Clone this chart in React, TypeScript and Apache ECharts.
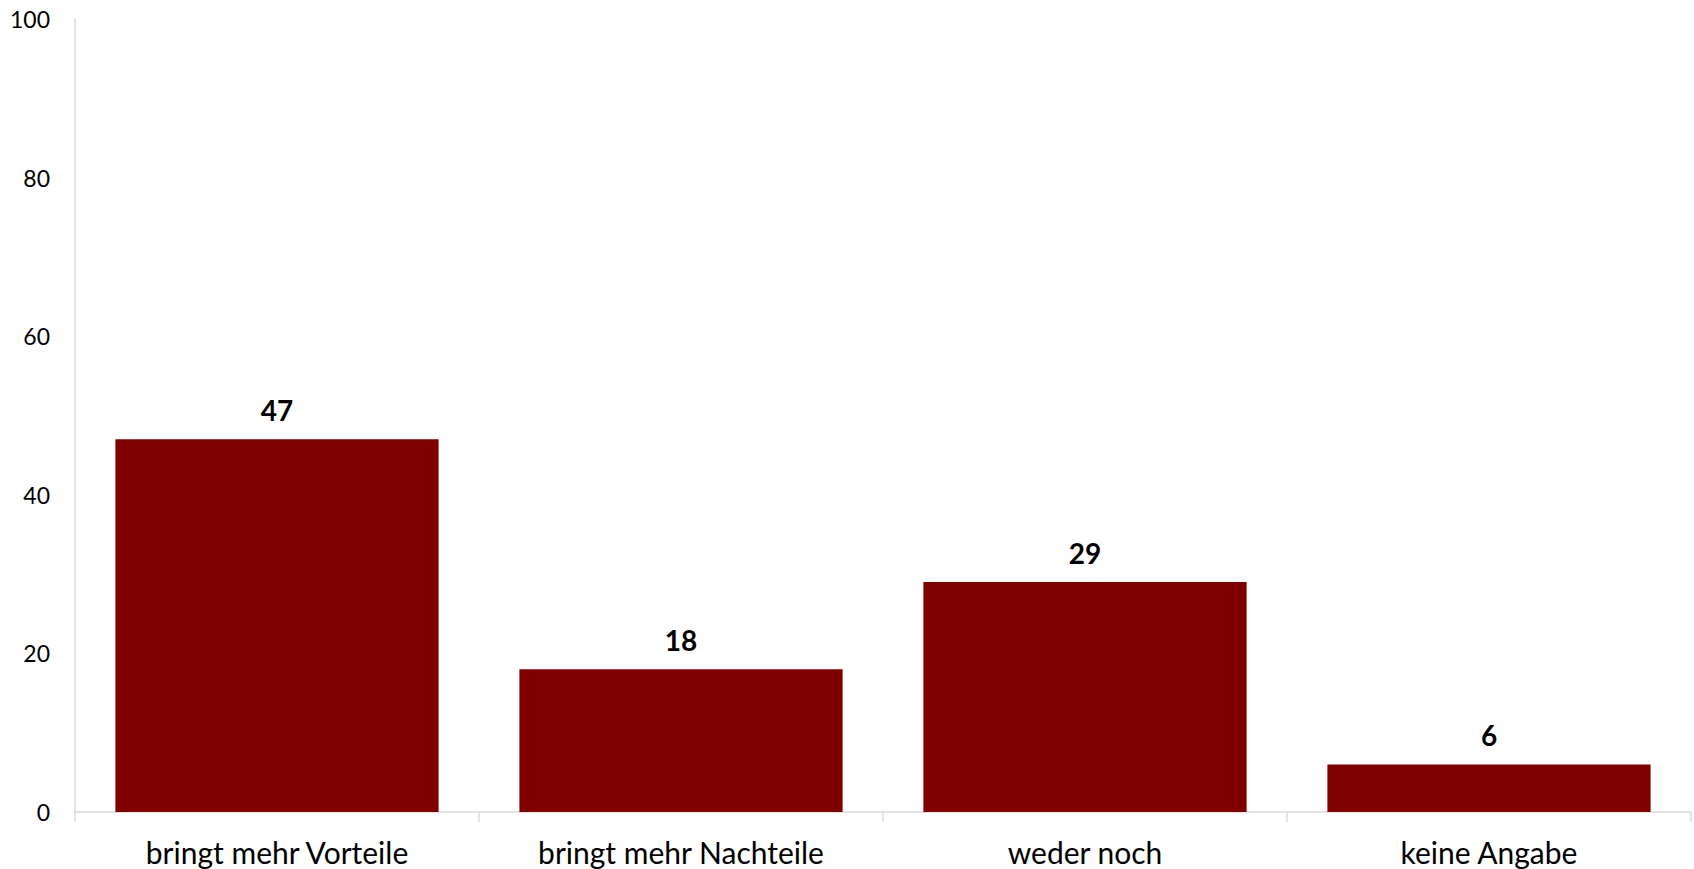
import React, { useEffect, useRef } from "react";
import * as echarts from "echarts";

const categories = ["bringt mehr Vorteile", "bringt mehr Nachteile", "weder noch", "keine Angabe"];
const values = [47, 18, 29, 6];
const yTicks = { min: 0, max: 100, interval: 20 };

export default function App() {
  const ref = useRef<HTMLDivElement>(null);
  useEffect(() => {
    if (!ref.current) return;
    const chart = echarts.init(ref.current, null, { renderer: "svg" });
    const font = "Lato, 'Open Sans', sans-serif";
    chart.setOption({
      animation: false,
      grid: { left: 75, right: 3, top: 19, bottom: 57, containLabel: false },
      xAxis: {
        type: "category",
        data: categories,
        axisLine: { show: true, lineStyle: { color: "#d9d9d9", width: 1.5 } },
        axisTick: { show: true, length: 10, lineStyle: { color: "#d9d9d9", width: 1.5 } },
        axisLabel: { color: "#000", fontSize: 30, fontFamily: font, margin: 25 },
      },
      yAxis: {
        type: "value",
        min: yTicks.min,
        max: yTicks.max,
        interval: yTicks.interval,
        axisLine: { show: true, lineStyle: { color: "#d9d9d9", width: 1.5 } },
        axisTick: { show: false },
        splitLine: { show: false },
        axisLabel: { color: "#000", fontSize: 23, fontFamily: font, margin: 25 },
      },
      series: [
        {
          type: "bar",
          data: values,
          barCategoryGap: "20%",
          itemStyle: { color: "#800000" },
          label: {
            show: true,
            position: "top",
            distance: 15,
            color: "#000",
            fontWeight: "bold",
            fontSize: 28,
            fontFamily: font,
          },
        },
      ],
    });
    return () => chart.dispose();
  }, []);
  return (
    <div
      ref={ref}
      style={{ position: "fixed", left: 0, top: 0, width: 1694, height: 869, background: "#fff" }}
    />
  );
}
